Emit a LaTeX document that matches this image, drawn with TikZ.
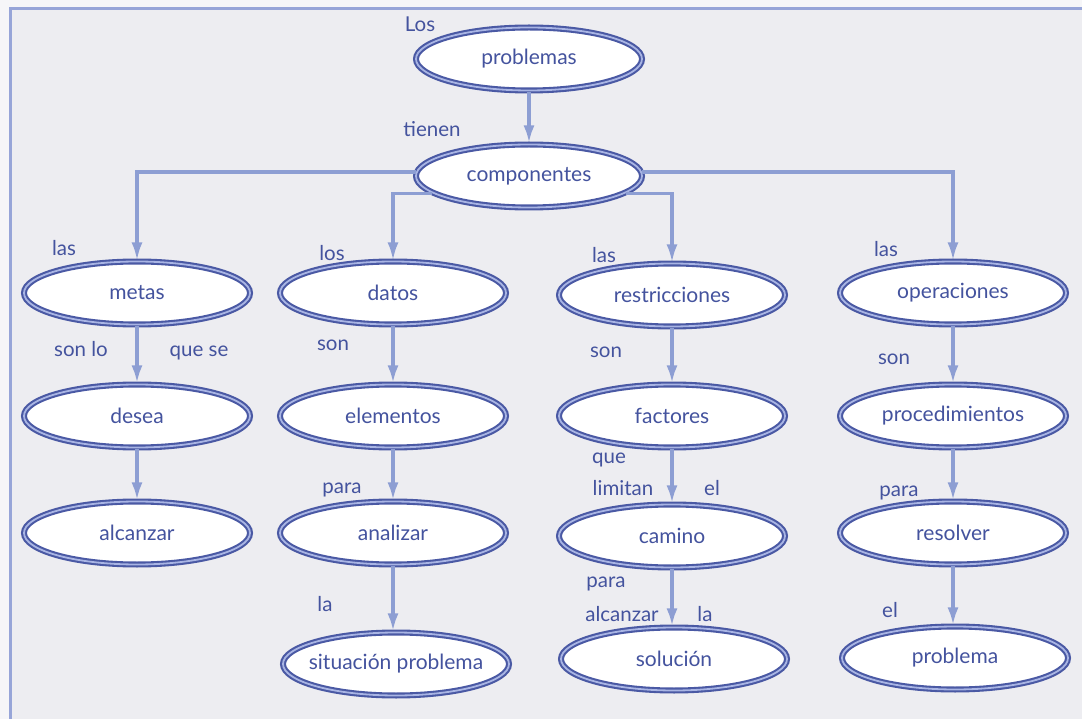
\documentclass[tikz,border=0pt]{standalone}
\usepackage{fontspec}
\setmainfont{Lato}
\usetikzlibrary{shapes.geometric,arrows.meta}
\definecolor{bg}{HTML}{EDEDF1}
\definecolor{pagebg}{HTML}{F6F6F8}
\definecolor{frame}{HTML}{97A5D8}
\definecolor{ringdark}{HTML}{4A59A4}
\definecolor{ringlight}{HTML}{A9B5E4}
\definecolor{arr}{HTML}{8D9ED3}
\definecolor{txt}{HTML}{44539E}
\begin{document}
\begin{tikzpicture}[x=1pt,y=-1pt,
  concept/.style={ellipse, draw=ringdark, line width=2.1pt, double=ringlight,
    double distance=1.8pt, fill=white, minimum width=226pt, minimum height=63pt,
    inner sep=0pt, text=txt, font=\fontsize{21}{24}\selectfont},
  lbl/.style={anchor=base, text=txt, inner sep=0pt, font=\fontsize{20.5}{24}\selectfont},
  link/.style={draw=arr, line width=3.8pt, -{Latex[length=18pt,width=11pt]}},
  branch/.style={draw=arr, line width=3.2pt, -{Latex[length=18pt,width=11pt]}}]
\useasboundingbox (0,0) rectangle (1082,719);
\fill[pagebg] (0,0) rectangle (1082,719);
\fill[bg] (12,9) rectangle (1082,719);
\draw[frame, line width=3.5pt] (10.5,719) -- (10.5,8.5) -- (1082,8.5);

% concepts
\node[concept] (problemas) at (529,59) {problemas};
\node[concept] (componentes) at (529,176) {componentes};
\node[concept] (metas) at (137,293) {metas};
\node[concept] (datos) at (393,293) {datos};
\node[concept] (restricciones) at (672,295) {restricciones};
\node[concept] (operaciones) at (953,293) {operaciones};
\node[concept] (desea) at (137,416) {desea};
\node[concept] (elementos) at (393,416) {elementos};
\node[concept] (factores) at (672,416) {factores};
\node[concept] (procedimientos) at (953,416) {\makebox[140pt][c]{procedimientos}};
\node[concept] (alcanzar) at (137,533) {alcanzar};
\node[concept] (analizar) at (393,533) {analizar};
\node[concept] (camino) at (672,536) {camino};
\node[concept] (resolver) at (953,533) {resolver};
\node[concept] (situacion) at (396,664) {\makebox[140pt][c]{situación problema}};
\node[concept] (solucion) at (674,659) {solución};
\node[concept] (problema) at (955,658) {problema};

% connectors
\draw[link] (problemas) -- (componentes);
\draw[branch] (componentes.178) -| (metas.north);
\draw[branch] (componentes.190) -| (datos.north);
\draw[branch] (componentes.350) -| (restricciones.north);
\draw[branch] (componentes.2) -| (operaciones.north);
\draw[link] (metas) -- (desea);
\draw[link] (desea) -- (alcanzar);
\draw[link] (datos) -- (elementos);
\draw[link] (elementos) -- (analizar);
\draw[link] (analizar.south) -- (analizar.south |- situacion.north);
\draw[link] (restricciones) -- (factores);
\draw[link] (factores) -- (camino);
\draw[link] (camino.south) -- (camino.south |- solucion.north);
\draw[link] (operaciones) -- (procedimientos);
\draw[link] (procedimientos) -- (resolver);
\draw[link] (resolver.south) -- (resolver.south |- problema.north);

% linking words
\node[lbl] (t1) at (420,32) {Los};
\node[lbl] (t2) at (432,137) {tienen};
\node[lbl] (t3) at (64,256) {las};
\node[lbl] (t4) at (332,261) {los};
\node[lbl] (t5) at (604,263) {las};
\node[lbl] (t6) at (886,257) {las};
\node[lbl] (t7) at (81,356) {son lo};
\node[lbl] (t8) at (199,356) {que se};
\node[lbl] (t9) at (333,351) {son};
\node[lbl] (t10) at (606,358) {son};
\node[lbl] (t11) at (894,364) {son};
\node[lbl] (t12) at (342,493) {para};
\node[lbl] (t13) at (609,463) {que};
\node[lbl] (t14) at (623,495) {limitan};
\node[lbl] (t15) at (712,495) {el};
\node[lbl] (t16) at (899,496) {para};
\node[lbl] (t17) at (325,611) {la};
\node[lbl] (t18) at (606,587) {para};
\node[lbl] (t19) at (622,621) {alcanzar};
\node[lbl] (t20) at (705,621) {la};
\node[lbl] (t21) at (890,617) {el};
\end{tikzpicture}
\end{document}
